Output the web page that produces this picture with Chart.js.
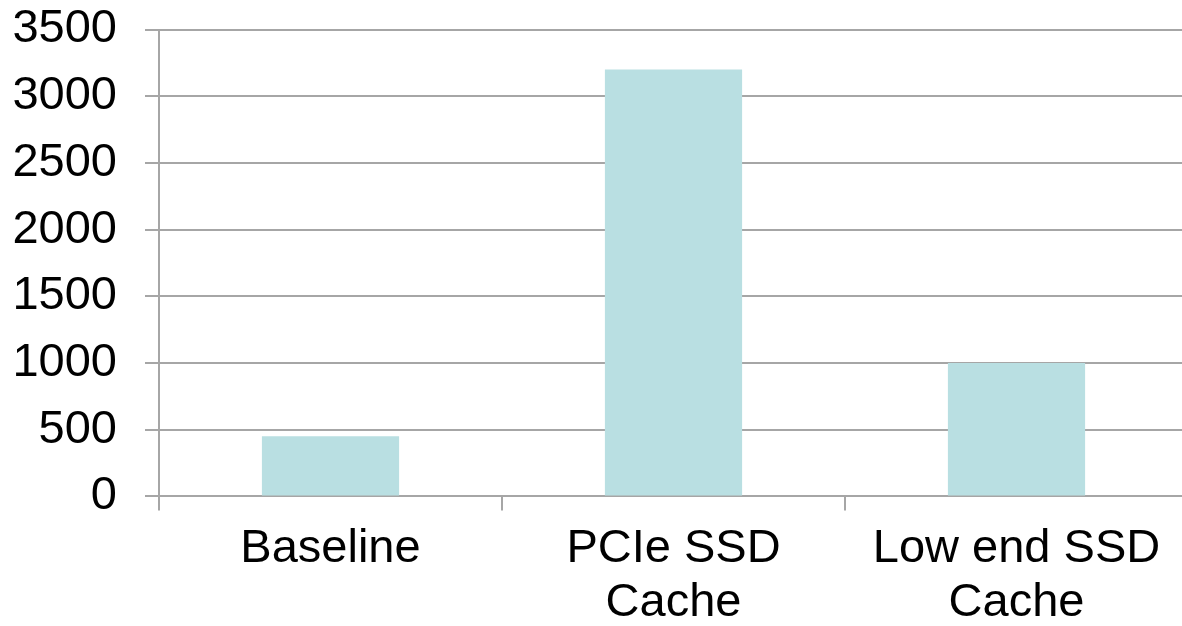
<!DOCTYPE html>
<html>
<head>
<meta charset="utf-8">
<script src="https://cdn.jsdelivr.net/npm/chart.js@4.4.0/dist/chart.umd.min.js"></script>
<style>
  html, body { margin: 0; padding: 0; overflow: hidden; background: #fff; }
  canvas { display: block; }
</style>
</head>
<body>
<canvas id="barChart" width="1190" height="660"></canvas>
<script>
const categories = [['Baseline'], ['PCIe SSD', 'Cache'], ['Low end SSD', 'Cache']];
const values = [450, 3200, 1000];
const yMin = 0;
const yMax = 3500;
const yStep = 500;

const gridColor = '#a6a6a6';
const tickFont = { family: '"Liberation Sans", Arial, sans-serif', size: 47, lineHeight: 1.15 };

window.onload = function() {
    const ctx = document.getElementById('barChart').getContext('2d');
    new Chart(ctx, {
        type: 'bar',
        data: {
            labels: categories,
            datasets: [{
                data: values,
                backgroundColor: '#b9dfe2',
                borderWidth: 0,
                categoryPercentage: 1,
                barPercentage: 0.4
            }]
        },
        options: {
            responsive: false,
            animation: false,
            layout: { padding: { top: 29.5, right: 2, left: 0, bottom: 17.5 } },
            plugins: {
                legend: { display: false },
                tooltip: { enabled: false }
            },
            scales: {
                x: {
                    grid: {
                        display: true,
                        drawOnChartArea: false,
                        drawTicks: true,
                        tickLength: 14,
                        color: gridColor,
                        lineWidth: 2,
                        offset: true
                    },
                    border: { display: true, color: gridColor, width: 2 },
                    ticks: {
                        color: '#000',
                        font: tickFont,
                        padding: 12,
                        maxRotation: 0,
                        autoSkip: false
                    }
                },
                y: {
                    min: yMin,
                    max: yMax,
                    afterFit: function(scale) {
                        // keep the plot edge where the reference has it
                        scale.width = 159;
                        scale.paddingTop = 0;
                    },
                    grid: {
                        color: gridColor,
                        lineWidth: 2,
                        tickLength: 14
                    },
                    border: { display: true, color: gridColor, width: 2 },
                    ticks: {
                        stepSize: yStep,
                        color: '#000',
                        font: tickFont,
                        padding: 28,
                        callback: v => String(v)
                    }
                }
            }
        }
    });
};
</script>
</body>
</html>
